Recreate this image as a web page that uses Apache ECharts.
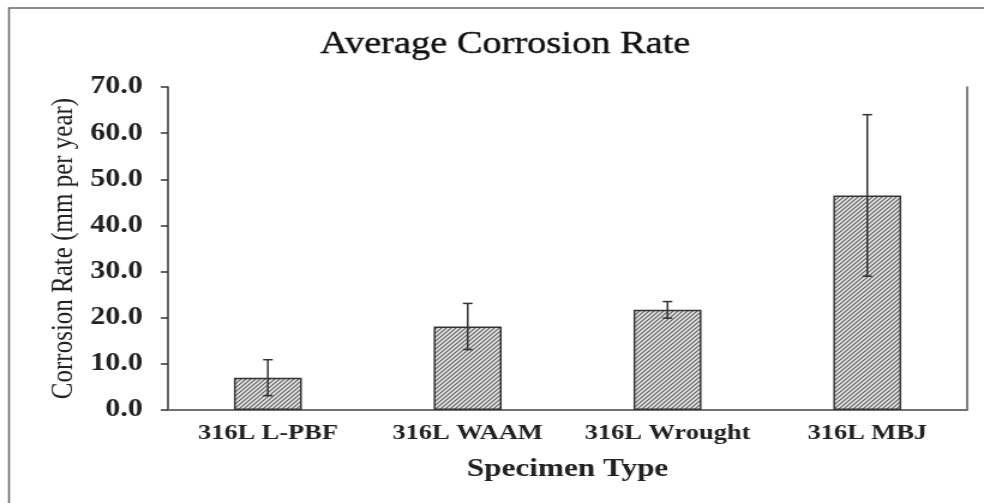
<!DOCTYPE html>
<html>
<head>
<meta charset="utf-8">
<title>Average Corrosion Rate</title>
<script src="https://cdn.jsdelivr.net/npm/echarts@6/dist/echarts.min.js"></script>
<style>
    html, body { margin: 0; padding: 0; background: #fff; overflow: hidden; }
    /* the source figure is stretched sideways, so the chart is drawn narrower and scaled */
    #chart { width: 820px; height: 503px; transform: scaleX(1.2); transform-origin: 0 0; }
</style>
</head>
<body>
<div id="chart"></div>
<script>
var categories = ['316L L-PBF', '316L WAAM', '316L Wrought', '316L MBJ'];
var meanRate = [7.0, 18.1, 21.7, 46.5];
var stdDev = [3.9, 5.0, 1.8, 17.5];
var yMin = 0, yMax = 70, yStep = 10;

var serif = "'Liberation Serif', 'DejaVu Serif', serif";

// hatch fill  ////
function hatch() {
    var c = document.createElement('canvas');
    c.width = 4; c.height = 4;
    var g = c.getContext('2d');
    g.fillStyle = '#e6e6e6';
    g.fillRect(0, 0, 4, 4);
    g.strokeStyle = '#5c5c5c';
    g.lineWidth = 1.1;
    g.beginPath();
    g.moveTo(-1, 5); g.lineTo(5, -1);
    g.moveTo(-1, 1); g.lineTo(1, -1);
    g.moveTo(3, 5); g.lineTo(5, 3);
    g.stroke();
    return c;
}

var errData = [];
for (var i = 0; i < categories.length; i++) {
    errData.push([i, meanRate[i] - stdDev[i], meanRate[i] + stdDev[i]]);
}

var myChart = echarts.init(document.getElementById('chart'));
var option = {
    animation: false,
    backgroundColor: '#fff',
    title: {
        text: 'Average Corrosion Rate',
        left: 416,
        top: 24,
        textAlign: 'center',
        textStyle: { fontFamily: serif, fontSize: 32, fontWeight: 'normal', color: '#111', textBorderColor: '#111', textBorderWidth: 0.4 }
    },
    graphic: [{
        type: 'rect',
        shape: { x: 7.5, y: 8, width: 1000, height: 1000 },
        style: { fill: 'none', stroke: '#666', lineWidth: 1.5 },
        silent: true
    }],
    grid: { left: 140, right: 14, top: 87, bottom: 93 },
    xAxis: [
        {
            type: 'category',
            data: categories,
            name: 'Specimen Type',
            nameLocation: 'middle',
            nameGap: 46,
            nameMoveOverlap: false,
            nameTextStyle: { fontFamily: serif, fontSize: 26, fontWeight: 'bold', color: '#222' },
            axisLine: { lineStyle: { color: '#bbb', width: 1.5 } },
            axisTick: { show: false },
            axisLabel: { interval: 0, margin: 12, fontFamily: serif, fontSize: 22, fontWeight: 'bold', color: '#222' }
        },
        {
            type: 'category',
            data: categories,
            position: 'top',
            axisLine: { lineStyle: { color: '#555', width: 1.5 } },
            axisTick: { show: false },
            axisLabel: { show: false }
        }
    ],
    yAxis: [
        {
            type: 'value',
            min: yMin, max: yMax, interval: yStep,
            name: 'Corrosion Rate (mm per year)',
            nameLocation: 'middle',
            nameGap: 74,
            nameMoveOverlap: false,
            nameTextStyle: { fontFamily: serif, fontSize: 25, color: '#222' },
            axisLine: { show: true, lineStyle: { color: '#333', width: 1.5 } },
            axisTick: { show: true, length: 6, lineStyle: { color: '#333', width: 1.5 } },
            axisLabel: {
                margin: 21, fontFamily: serif, fontSize: 25, fontWeight: 'bold', color: '#222',
                formatter: function (v) { return v.toFixed(1); }
            },
            splitLine: { show: false }
        },
        {
            type: 'value',
            min: yMin, max: yMax, interval: yStep,
            position: 'right',
            axisLine: { show: true, lineStyle: { color: '#555', width: 1.5 } },
            axisTick: { show: false },
            axisLabel: { show: false },
            splitLine: { show: false }
        }
    ],
    series: [
        {
            name: 'Corrosion Rate',
            type: 'bar',
            barWidth: '34%',
            data: meanRate,
            itemStyle: {
                color: { image: hatch(), repeat: 'repeat' },
                borderColor: '#333',
                borderWidth: 1.5
            }
        },
        {
            name: 'Std Dev',
            type: 'custom',
            data: errData,
            z: 5,
            renderItem: function (params, api) {
                var lo = api.coord([api.value(0), api.value(1)]);
                var hi = api.coord([api.value(0), api.value(2)]);
                var w = 4;
                var st = { stroke: '#333', lineWidth: 1.5 };
                return {
                    type: 'group',
                    children: [
                        { type: 'line', shape: { x1: hi[0], y1: hi[1], x2: lo[0], y2: lo[1] }, style: st },
                        { type: 'line', shape: { x1: hi[0] - w, y1: hi[1], x2: hi[0] + w, y2: hi[1] }, style: st },
                        { type: 'line', shape: { x1: lo[0] - w, y1: lo[1], x2: lo[0] + w, y2: lo[1] }, style: st }
                    ]
                };
            }
        }
    ]
};
myChart.setOption(option, true);
</script>
</body>
</html>
